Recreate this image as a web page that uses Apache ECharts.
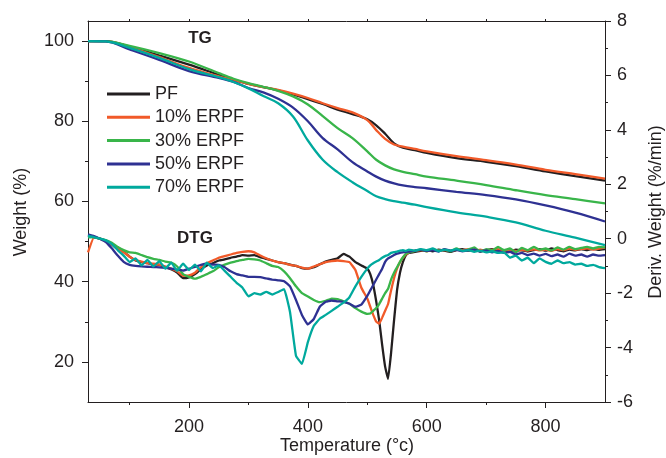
<!DOCTYPE html>
<html>
<head>
<meta charset="utf-8">
<script src="https://cdn.jsdelivr.net/npm/echarts@6/dist/echarts.min.js"></script>
<style>html,body{margin:0;padding:0;background:#fff}#c{width:666px;height:458px}</style>
</head>
<body>
<div id="c"></div>
<script>
var seriesNames = ['PF', '10% ERPF', '30% ERPF', '50% ERPF', '70% ERPF'];
var seriesColors = ['#231f20', '#f15a29', '#39b54a', '#2e3192', '#00a99d'];

// TG (Weight %) data
var tgTemps = [30, 60, 100, 150, 200, 250, 275, 300, 325, 350, 375, 400, 425, 450, 475, 500, 515, 530, 545, 560, 580, 600, 650, 700, 750, 800, 850, 900];
var tgPF  = [100, 100, 98.6, 96.4, 94.1, 91.6, 90.4, 89.3, 88.5, 87.7, 86.7, 85.5, 84.3, 82.9, 81.8, 80.5, 79.0, 76.9, 74.5, 73.4, 72.8, 72.1, 70.8, 69.9, 68.8, 67.5, 66.3, 65.2];
var tg10  = [100, 100, 98.5, 96.0, 93.3, 91.2, 90.3, 89.3, 88.5, 87.8, 86.9, 85.8, 84.5, 83.3, 82.2, 80.3, 77.8, 75.6, 74.2, 73.7, 73.1, 72.5, 71.3, 70.3, 69.2, 67.9, 66.8, 65.7];
var tg30  = [100, 100, 98.8, 97.0, 94.9, 92.0, 90.6, 89.5, 88.6, 87.6, 86.2, 84.2, 81.3, 78.3, 75.8, 72.5, 70.4, 69.0, 68.0, 67.4, 66.8, 66.2, 65.2, 64.1, 62.8, 61.6, 60.6, 59.5];
var tg50  = [100, 99.9, 97.9, 95.3, 92.5, 90.8, 89.8, 88.3, 87.2, 85.6, 83.4, 80.0, 75.8, 73.0, 69.8, 67.5, 66.2, 65.2, 64.5, 64.0, 63.6, 63.3, 62.4, 61.6, 60.5, 59.0, 57.2, 55.0];
var tg70  = [100, 99.9, 98.3, 95.8, 93.0, 91.0, 89.8, 88.2, 86.3, 84.5, 81.2, 75.2, 70.4, 67.3, 64.8, 62.6, 61.3, 60.6, 60.1, 59.7, 59.2, 58.6, 57.3, 56.2, 54.8, 52.7, 51.0, 49.1];

// DTG (Deriv. Weight %/min) data
var dtgTemps = [30,40,50,60,70,80,90,100,110,120,
  130,140,150,160,170,180,190,200,210,220,
  230,240,250,260,270,280,290,300,310,320,
  330,340,350,360,370,380,390,400,410,420,
  430,440,450,460,470,480,490,500,
  505,510,515,520,525,530,535,540,545,550,555,560,565,
  570,580,590,600,610,620,630,640,650,660,
  670,680,690,700,710,720,730,740,750,760,
  770,780,790,800,810,820,830,840,850,860,
  870,880,890,900];
var dtgPF = [0.12,0.05,0.0,-0.08,-0.2,-0.32,-0.48,-0.66,-0.8,-0.86,
  -0.9,-0.94,-0.96,-1.04,-1.12,-1.24,-1.45,-1.42,-1.3,-1.12,
  -0.98,-0.9,-0.8,-0.76,-0.7,-0.66,-0.6,-0.62,-0.6,-0.68,
  -0.74,-0.8,-0.86,-0.9,-0.95,-1.0,-1.08,-1.1,-1.05,-0.94,
  -0.84,-0.78,-0.72,-0.56,-0.66,-0.86,-0.98,-1.1,
  -1.3,-1.7,-2.3,-3.0,-3.9,-4.7,-5.15,-4.2,-3.0,-1.9,-1.25,-0.85,-0.6,
  -0.52,-0.48,-0.45,-0.42,-0.46,-0.4,-0.44,-0.48,-0.42,-0.38,
  -0.44,-0.4,-0.46,-0.42,-0.38,-0.45,-0.42,-0.48,-0.4,-0.43,
  -0.47,-0.42,-0.38,-0.44,-0.36,-0.42,-0.46,-0.4,-0.43,-0.38,
  -0.42,-0.37,-0.41,-0.38];
var dtg10 = [-0.5,0.05,0.0,-0.1,-0.22,-0.36,-0.5,-0.66,-0.78,-0.84,
  -0.9,-0.92,-0.95,-1.02,-1.1,-1.2,-1.36,-1.35,-1.25,-1.05,
  -0.9,-0.8,-0.7,-0.64,-0.58,-0.52,-0.48,-0.46,-0.5,-0.62,
  -0.72,-0.8,-0.86,-0.9,-0.96,-1.0,-1.06,-1.1,-1.02,-0.94,
  -0.86,-0.82,-0.8,-0.82,-0.86,-1.15,-1.8,-2.2,
  -2.5,-2.8,-3.05,-3.12,-2.9,-2.65,-2.4,-1.9,-1.45,-1.1,-0.86,-0.7,-0.58,
  -0.5,-0.45,-0.42,-0.46,-0.4,-0.44,-0.41,-0.45,-0.4,-0.43,
  -0.38,-0.44,-0.4,-0.45,-0.41,-0.38,-0.44,-0.4,-0.46,-0.41,
  -0.44,-0.39,-0.43,-0.4,-0.45,-0.38,-0.42,-0.36,-0.41,-0.38,
  -0.35,-0.4,-0.36,-0.33];
var dtg30 = [0.05,0.06,0.0,-0.05,-0.15,-0.3,-0.42,-0.5,-0.52,-0.6,
  -0.68,-0.74,-0.78,-0.84,-0.88,-1.02,-1.3,-1.4,-1.47,-1.4,
  -1.3,-1.2,-1.05,-0.95,-0.88,-0.82,-0.78,-0.74,-0.76,-0.8,
  -0.9,-1.0,-1.04,-1.2,-1.45,-1.75,-2.0,-2.12,-2.25,-2.33,
  -2.28,-2.2,-2.22,-2.3,-2.39,-2.55,-2.68,-2.76,
  -2.75,-2.65,-2.55,-2.4,-2.2,-2.0,-1.84,-1.5,-1.25,-1.05,-0.85,-0.68,-0.55,
  -0.5,-0.45,-0.4,-0.46,-0.38,-0.44,-0.4,-0.46,-0.36,-0.45,
  -0.4,-0.32,-0.48,-0.38,-0.44,-0.3,-0.42,-0.36,-0.5,-0.34,
  -0.42,-0.3,-0.4,-0.36,-0.44,-0.32,-0.4,-0.3,-0.38,-0.34,
  -0.3,-0.36,-0.3,-0.32];
var dtg50 = [0.16,0.1,0.0,-0.12,-0.35,-0.62,-0.85,-0.96,-1.0,-1.02,
  -1.03,-1.04,-1.05,-1.07,-1.1,-1.14,-1.17,-1.1,-1.04,-0.96,
  -0.92,-0.95,-0.96,-1.05,-1.2,-1.3,-1.35,-1.4,-1.4,-1.41,
  -1.46,-1.5,-1.53,-1.56,-1.75,-2.25,-2.8,-3.15,-2.95,-2.5,
  -2.32,-2.27,-2.3,-2.32,-2.39,-2.5,-2.42,-2.1,
  -1.9,-1.7,-1.5,-1.3,-1.1,-0.85,-0.72,-0.66,-0.6,-0.55,-0.52,-0.5,-0.48,
  -0.47,-0.44,-0.4,-0.45,-0.42,-0.47,-0.38,-0.44,-0.41,-0.46,
  -0.42,-0.4,-0.47,-0.43,-0.5,-0.45,-0.52,-0.48,-0.58,-0.52,
  -0.6,-0.55,-0.62,-0.56,-0.64,-0.58,-0.66,-0.55,-0.62,-0.58,
  -0.66,-0.58,-0.62,-0.6];
var dtg70 = [0.1,0.06,0.0,-0.06,-0.2,-0.42,-0.62,-0.86,-0.72,-0.98,
  -0.78,-1.02,-0.82,-1.1,-0.88,-1.18,-0.92,-1.15,-0.95,-1.2,
  -0.88,-1.08,-0.98,-1.18,-1.4,-1.62,-1.8,-2.12,-2.0,-2.05,
  -1.95,-2.05,-1.96,-1.85,-2.7,-4.3,-4.6,-3.8,-3.2,-2.94,
  -2.8,-2.65,-2.5,-2.35,-2.15,-1.75,-1.4,-1.1,
  -0.98,-0.9,-0.84,-0.78,-0.7,-0.64,-0.6,-0.52,-0.49,-0.47,-0.44,-0.42,-0.45,
  -0.4,-0.44,-0.38,-0.42,-0.36,-0.46,-0.4,-0.44,-0.38,-0.45,
  -0.42,-0.48,-0.44,-0.5,-0.46,-0.52,-0.5,-0.7,-0.62,-0.8,
  -0.7,-0.9,-0.72,-0.85,-0.92,-0.8,-0.9,-0.86,-0.95,-0.92,
  -1.0,-0.96,-1.04,-1.08];

var xMajor = [200, 400, 600, 800];
var xMinor = [100, 300, 500, 700];
var xTop = [100, 200, 300, 400, 500, 600, 700, 800];
var yLeftMajor = [20, 40, 60, 80, 100];
var yLeftMinor = [30, 50, 70, 90];
var yRightMajor = [-6, -4, -2, 0, 2, 4, 6, 8];
var yRightMinor = [-5, -3, -1, 1, 3, 5, 7];

var FONT = "'Liberation Sans', Arial, sans-serif";
var INK = '#231f20';

function pairs(xs, ys) { return xs.map(function (x, i) { return [x, ys[i]]; }); }

var tgSets = [tgPF, tg10, tg30, tg50, tg70];
var dtgSets = [dtgPF, dtg10, dtg30, dtg50, dtg70];

var series = [];
for (var i = 0; i < 5; i++) {
  series.push({
    name: seriesNames[i], type: 'line', xAxisIndex: 0, yAxisIndex: 0,
    data: pairs(tgTemps, tgSets[i]), smooth: 0.35, symbol: 'none',
    lineStyle: { color: seriesColors[i], width: 2.3 }, itemStyle: { color: seriesColors[i] },
    z: 2 + i, animation: false
  });
}
for (var j = 0; j < 5; j++) {
  series.push({
    name: seriesNames[j], type: 'line', xAxisIndex: 0, yAxisIndex: 1,
    data: pairs(dtgTemps, dtgSets[j]), smooth: 0.1, symbol: 'none',
    lineStyle: { color: seriesColors[j], width: 2.3 }, itemStyle: { color: seriesColors[j] },
    z: 2 + j, animation: false
  });
}

function lineStyle() { return { color: INK, width: 1 }; }

var option = {
  animation: false,
  backgroundColor: '#fff',
  grid: { left: 88, right: 61, top: 21, bottom: 56, containLabel: false },
  legend: {
    orient: 'vertical', left: 107, top: 85, padding: 0,
    itemWidth: 43, itemHeight: 3, itemGap: 5.3, icon: 'rect',
    data: seriesNames,
    textStyle: { fontSize: 18, color: INK, fontFamily: FONT, lineHeight: 18 }
  },
  xAxis: [
    { type: 'value', min: 30, max: 900, position: 'bottom',
      axisLine: { show: true, onZero: false, lineStyle: lineStyle() },
      axisTick: { show: true, customValues: xMajor, length: 6, lineStyle: lineStyle() },
      axisLabel: { customValues: xMajor, fontSize: 18, color: INK, fontFamily: FONT, margin: 16 },
      splitLine: { show: false } },
    { type: 'value', min: 30, max: 900, position: 'bottom',
      axisLine: { show: false, onZero: false },
      axisTick: { show: true, customValues: xMinor, length: 3, lineStyle: lineStyle() },
      axisLabel: { show: false }, splitLine: { show: false } },
    { type: 'value', min: 30, max: 900, position: 'top',
      axisLine: { show: true, onZero: false, lineStyle: lineStyle() },
      axisTick: { show: true, customValues: xTop, length: 2, lineStyle: lineStyle() },
      axisLabel: { show: false }, splitLine: { show: false } }
  ],
  yAxis: [
    { type: 'value', min: 10, max: 105, position: 'left',
      axisLine: { show: true, onZero: false, lineStyle: lineStyle() },
      axisTick: { show: true, customValues: yLeftMajor, length: 6, lineStyle: lineStyle() },
      axisLabel: { customValues: yLeftMajor, fontSize: 18, color: INK, fontFamily: FONT, margin: 14 },
      splitLine: { show: false } },
    { type: 'value', min: -6, max: 8, position: 'right',
      axisLine: { show: true, onZero: false, lineStyle: lineStyle() },
      axisTick: { show: true, customValues: yRightMajor, length: 6, lineStyle: lineStyle() },
      axisLabel: { customValues: yRightMajor, fontSize: 18, color: INK, fontFamily: FONT, margin: 12 },
      splitLine: { show: false } },
    { type: 'value', min: 10, max: 105, position: 'left',
      axisLine: { show: false, onZero: false },
      axisTick: { show: true, customValues: yLeftMinor, length: 3, lineStyle: lineStyle() },
      axisLabel: { show: false }, splitLine: { show: false } },
    { type: 'value', min: -6, max: 8, position: 'right',
      axisLine: { show: false, onZero: false },
      axisTick: { show: true, customValues: yRightMinor, length: 3, lineStyle: lineStyle() },
      axisLabel: { show: false }, splitLine: { show: false } }
  ],
  graphic: [
    { type: 'text', x: 200, y: 38, style: { text: 'TG', font: 'bold 17px ' + FONT, fill: INK, align: 'center', verticalAlign: 'middle', textAlign: 'center', textVerticalAlign: 'middle' } },
    { type: 'text', x: 195, y: 238, style: { text: 'DTG', font: 'bold 17px ' + FONT, fill: INK, align: 'center', verticalAlign: 'middle', textAlign: 'center', textVerticalAlign: 'middle' } },
    { type: 'text', x: 21, y: 212, rotation: Math.PI / 2, style: { text: 'Weight (%)', font: '18px ' + FONT, fill: INK, align: 'center', verticalAlign: 'middle', textAlign: 'center', textVerticalAlign: 'middle' } },
    { type: 'text', x: 656, y: 212, rotation: Math.PI / 2, style: { text: 'Deriv. Weight (%/min)', font: '18px ' + FONT, fill: INK, align: 'center', verticalAlign: 'middle', textAlign: 'center', textVerticalAlign: 'middle' } },
    { type: 'text', x: 347, y: 446, style: { text: 'Temperature (°c)', font: '18px ' + FONT, fill: INK, align: 'center', verticalAlign: 'middle', textAlign: 'center', textVerticalAlign: 'middle' } }
  ],
  series: series
};

var chart = echarts.init(document.getElementById('c'), null, { renderer: 'canvas' });
chart.setOption(option);
</script>
</body>
</html>
